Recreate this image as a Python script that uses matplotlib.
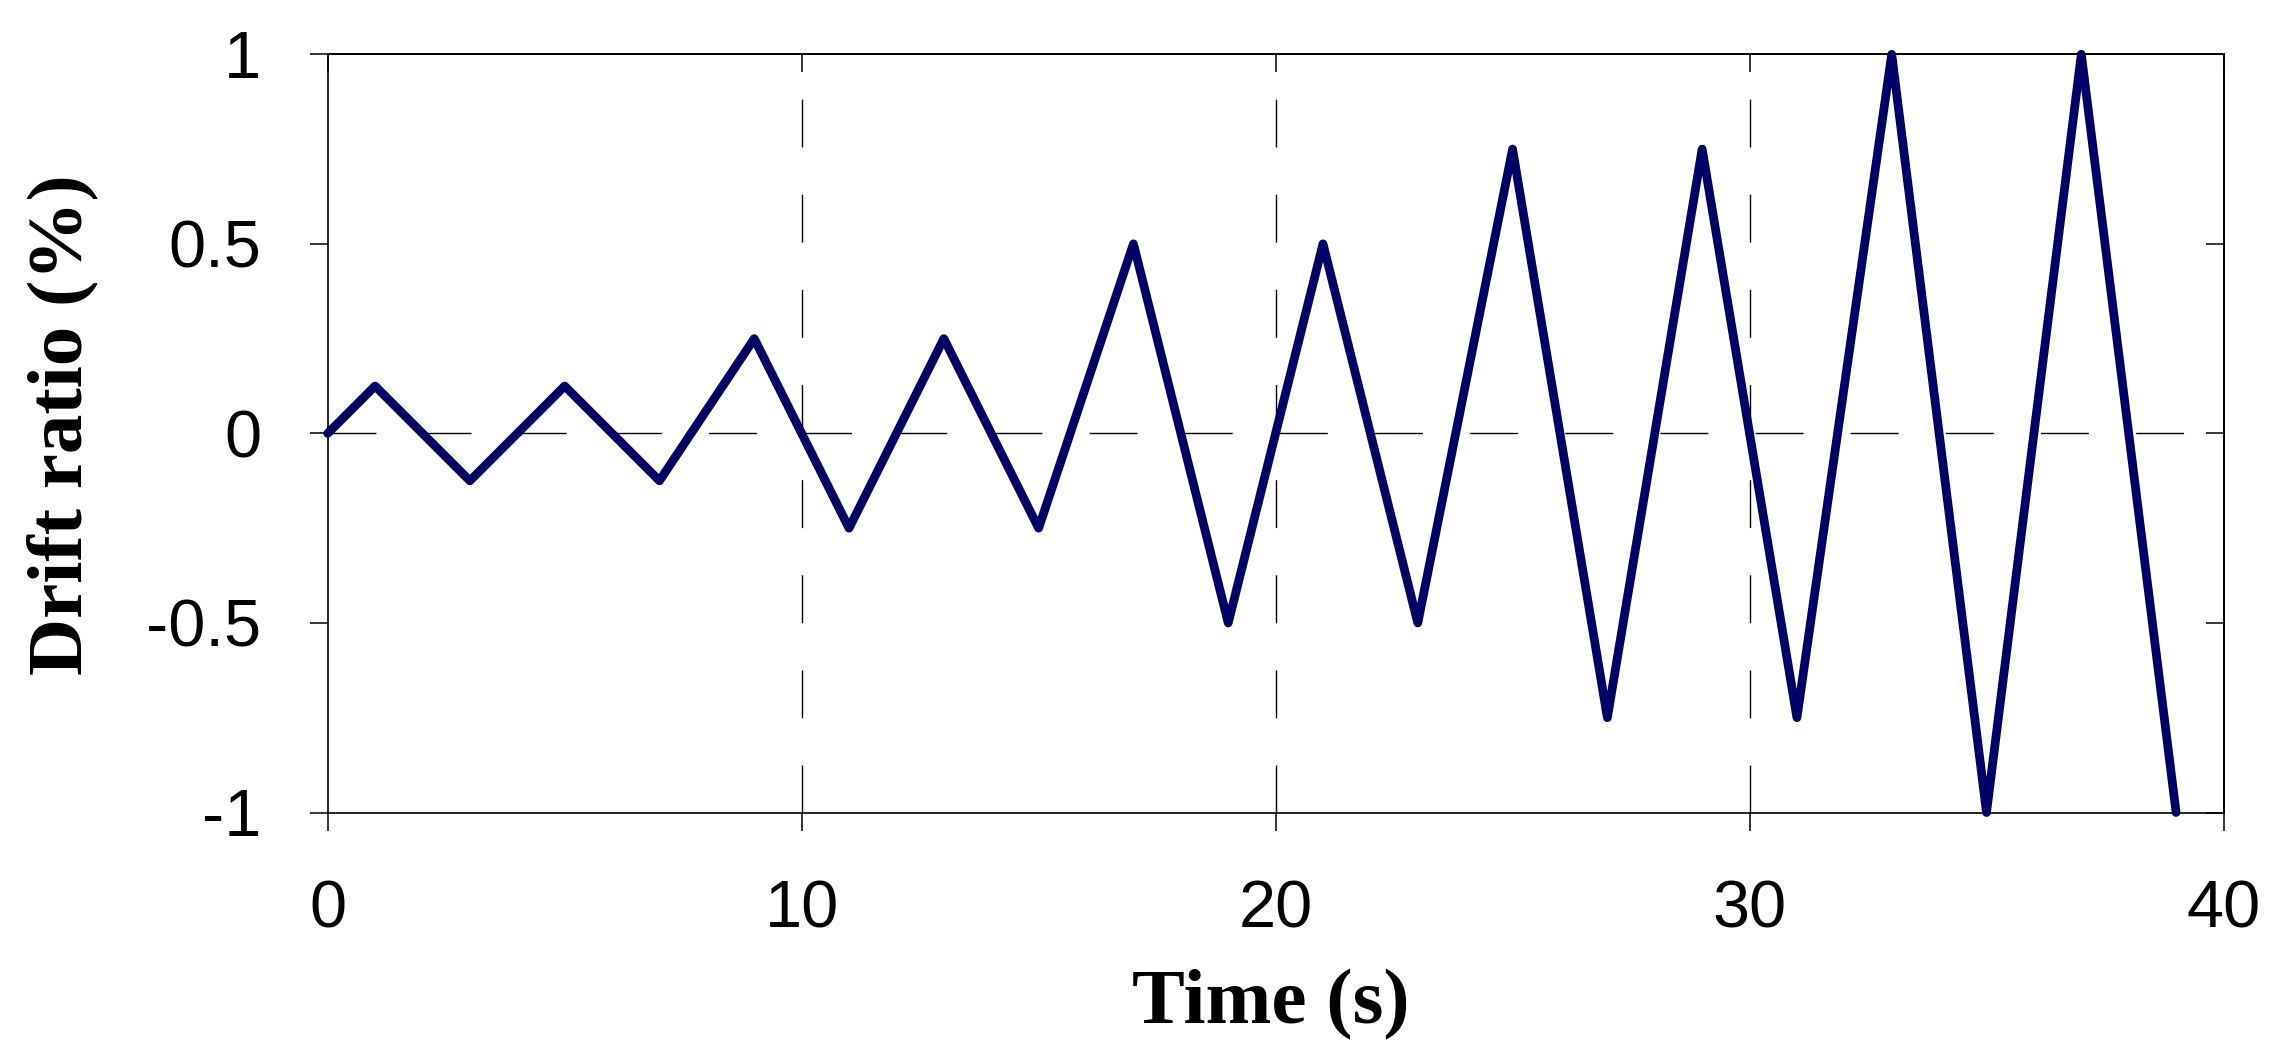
import matplotlib
matplotlib.use("Agg")
import matplotlib.pyplot as plt

# Data
time_s = [0, 1, 3, 5, 7, 9, 11, 13, 15, 17, 19, 21, 23, 25, 27, 29, 31, 33, 35, 37, 39]
drift_pct = [0, 0.125, -0.125, 0.125, -0.125, 0.25, -0.25, 0.25, -0.25, 0.5, -0.5,
             0.5, -0.5, 0.75, -0.75, 0.75, -0.75, 1.0, -1.0, 1.0, -1.0]
x_ticks = [0, 10, 20, 30, 40]
y_ticks = [-1, -0.5, 0, 0.5, 1]
y_tick_labels = ["-1", "-0.5", "0", "0.5", "1"]
x_grid = [10, 20, 30]

DPI = 100
fig = plt.figure(figsize=(22.96, 10.61), dpi=DPI)
L, R, T, B = 327.7, 2223.5, 54.3, 812.5
W, H = 2296, 1061
ax = fig.add_axes([L / W, 1 - B / H, (R - L) / W, (B - T) / H])

ax.set_xlim(0, 40)
ax.set_ylim(-1, 1)

dash = (0, (34.5, 34))
for xv in x_grid:
    ax.axvline(xv, color="black", lw=1.0, linestyle=dash, zorder=1)
ax.axhline(0, color="black", lw=1.0, linestyle=dash, zorder=1)

ax.plot(time_s, drift_pct, color="#000066", lw=6.3, solid_joinstyle="round",
        solid_capstyle="round", zorder=3, clip_on=False)

for s in ax.spines.values():
    s.set_linewidth(1.2)
    s.set_color("black")

tick_font = dict(family="Liberation Sans", size=48)
ax.set_xticks(x_ticks)
ax.set_xticklabels([str(v) for v in x_ticks], fontdict=tick_font)
ax.set_yticks(y_ticks)
ax.set_yticklabels(y_tick_labels, fontdict=tick_font)
ax.tick_params(axis="both", direction="out", length=13, width=1.1, color="black")
ax.tick_params(axis="y", pad=35)
ax.tick_params(axis="x", pad=35)

# inward ticks on top and right
sec_x = ax.secondary_xaxis("top")
sec_x.set_xticks(x_ticks)
sec_x.tick_params(direction="in", length=13, width=1.1, labeltop=False)
sec_x.spines["top"].set_linewidth(1.2)
sec_y = ax.secondary_yaxis("right")
sec_y.set_yticks(y_ticks)
sec_y.tick_params(direction="in", length=13, width=1.1, labelright=False)
sec_y.spines["right"].set_linewidth(1.2)

label_font = dict(family="Liberation Serif", weight="bold", size=57)
ax.set_xlabel("Time (s)", fontdict=label_font, va="baseline", ha="center")
ax.xaxis.set_label_coords(0.4977, -0.278)
ax.set_ylabel("Drift ratio (%)", fontdict=label_font, va="center", ha="center")
ax.yaxis.set_label_coords(-0.140, 0.512)

fig.savefig("out.png", dpi=DPI, facecolor="white")
